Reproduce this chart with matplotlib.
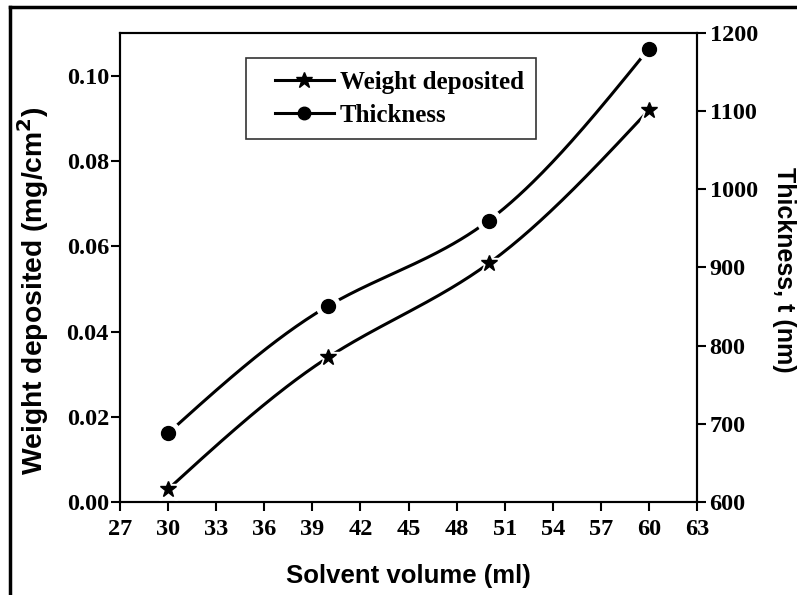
import numpy as np
import matplotlib
matplotlib.use("Agg")
import matplotlib.pyplot as plt
from matplotlib.lines import Line2D
from matplotlib.legend_handler import HandlerLine2D

solvent_ml = [30, 40, 50, 60]
weight_mg_cm2 = [0.003, 0.034, 0.056, 0.092]
thickness_nm = [688, 851, 960, 1180]

x_ticks = [27, 30, 33, 36, 39, 42, 45, 48, 51, 54, 57, 60, 63]
left_ticks = [0.00, 0.02, 0.04, 0.06, 0.08, 0.10]
right_ticks = [600, 700, 800, 900, 1000, 1100, 1200]


def natural_spline(x, y, n=200):
    x = np.asarray(x, float); y = np.asarray(y, float)
    k = len(x); h = np.diff(x)
    A = np.zeros((k, k)); b = np.zeros(k)
    A[0, 0] = A[-1, -1] = 1
    for i in range(1, k - 1):
        A[i, i - 1] = h[i - 1]; A[i, i] = 2 * (h[i - 1] + h[i]); A[i, i + 1] = h[i]
        b[i] = 3 * ((y[i + 1] - y[i]) / h[i] - (y[i] - y[i - 1]) / h[i - 1])
    c = np.linalg.solve(A, b)
    xs = np.linspace(x[0], x[-1], n); ys = np.empty_like(xs)
    for j, xv in enumerate(xs):
        i = min(np.searchsorted(x, xv, side='right') - 1, k - 2)
        dx = xv - x[i]
        bi = (y[i + 1] - y[i]) / h[i] - h[i] * (2 * c[i] + c[i + 1]) / 3
        di = (c[i + 1] - c[i]) / (3 * h[i])
        ys[j] = y[i] + bi * dx + c[i] * dx ** 2 + di * dx ** 3
    return xs, ys


class OffsetHandler(HandlerLine2D):
    def __init__(self, offset_frac=0.25, **kw):
        super().__init__(**kw)
        self.offset_frac = offset_frac

    def get_xdata(self, legend, xdescent, ydescent, width, height, fontsize):
        start = -xdescent + self.offset_frac * width
        end = -xdescent + width
        return np.array([start, end]), np.array([(start + end) / 2])


serif = ['Liberation Serif', 'DejaVu Serif']
sans = ['Liberation Sans', 'DejaVu Sans']

fig = plt.figure(figsize=(7.97, 5.95), dpi=100)
ax = fig.add_axes([120 / 797, 1 - 502 / 595, (697 - 120) / 797, (502 - 33) / 595])
ax2 = ax.twinx()

# weight curve
xs, ys = natural_spline(solvent_ml, weight_mg_cm2)
ax.plot(xs, ys, color='black', lw=2.2, zorder=2)
ax.plot(solvent_ml, weight_mg_cm2, ls='none', marker='*', ms=21, color='white', zorder=3)
ax.plot(solvent_ml, weight_mg_cm2, ls='none', marker='*', ms=12, color='black', zorder=4)

# thickness curve
xs2, ys2 = natural_spline(solvent_ml, thickness_nm)
ax2.plot(xs2, ys2, color='black', lw=2.2, zorder=2)
ax2.plot(solvent_ml, thickness_nm, ls='none', marker='o', ms=17, color='white', zorder=3)
ax2.plot(solvent_ml, thickness_nm, ls='none', marker='o', ms=10, color='black', zorder=4)

ax.set_xlim(27, 63)
ax.set_ylim(0, 0.1101)
ax2.set_ylim(600, 1200)
ax.set_xticks(x_ticks)
ax.set_xticklabels([str(v) for v in x_ticks])
ax.set_yticks(left_ticks)
ax.set_yticklabels([f"{v:.2f}" for v in left_ticks])
ax2.set_yticks(right_ticks)
ax2.set_yticklabels([str(v) for v in right_ticks])

for a in (ax, ax2):
    for s in a.spines.values():
        s.set_linewidth(1.5)
    a.tick_params(direction='out', length=6.5, width=1.5, labelsize=17.5)
    for lab in a.get_xticklabels() + a.get_yticklabels():
        lab.set_family(serif); lab.set_fontweight('bold')
ax.tick_params(top=False, right=False)
ax.tick_params(axis='x', pad=6)
ax.tick_params(axis='y', pad=1.5)
ax2.tick_params(left=False, pad=2.5)

ax.set_xlabel('Solvent volume (ml)', family=sans, fontweight='bold', fontsize=18.5)
ax.xaxis.set_label_coords(0.5, (502 - 564) / 469)
ax.set_ylabel('Weight deposited (mg/cm$^\\mathbf{2}$)', family=sans, fontweight='bold', fontsize=20.3)
ax.yaxis.set_label_coords((51 - 120) / 577, (502 - 291) / 469)
ax2.set_ylabel('Thickness, t (nm)', family=sans, fontweight='bold', fontsize=18, rotation=270)
ax2.yaxis.set_label_coords((796 - 120) / 577, (502 - 270) / 469)

handles = [
    Line2D([], [], color='black', lw=2.2, marker='*', ms=12),
    Line2D([], [], color='black', lw=2.2, marker='o', ms=9),
]
leg = ax.legend(handles, ['Weight deposited', 'Thickness'], loc='upper left',
                bbox_to_anchor=((246 - 120) / 577, (502 - 58) / 469),
                prop={'family': serif, 'weight': 'bold', 'size': 18},
                frameon=True, fancybox=False, edgecolor='black', handlelength=3.0,
                handletextpad=0.25, borderpad=0.5, labelspacing=0.4, borderaxespad=0,
                handler_map={Line2D: OffsetHandler(offset_frac=0.22)})
leg.get_frame().set_linewidth(1.2)

# outer frame (left and top edges)
fig.add_artist(Line2D([10 / 797, 10 / 797], [0, 1 - 7 / 595], color='black', lw=2.5, transform=fig.transFigure))
fig.add_artist(Line2D([10 / 797, 1], [1 - 7 / 595, 1 - 7 / 595], color='black', lw=2.5, transform=fig.transFigure))

fig.savefig('out.png', dpi=100)
